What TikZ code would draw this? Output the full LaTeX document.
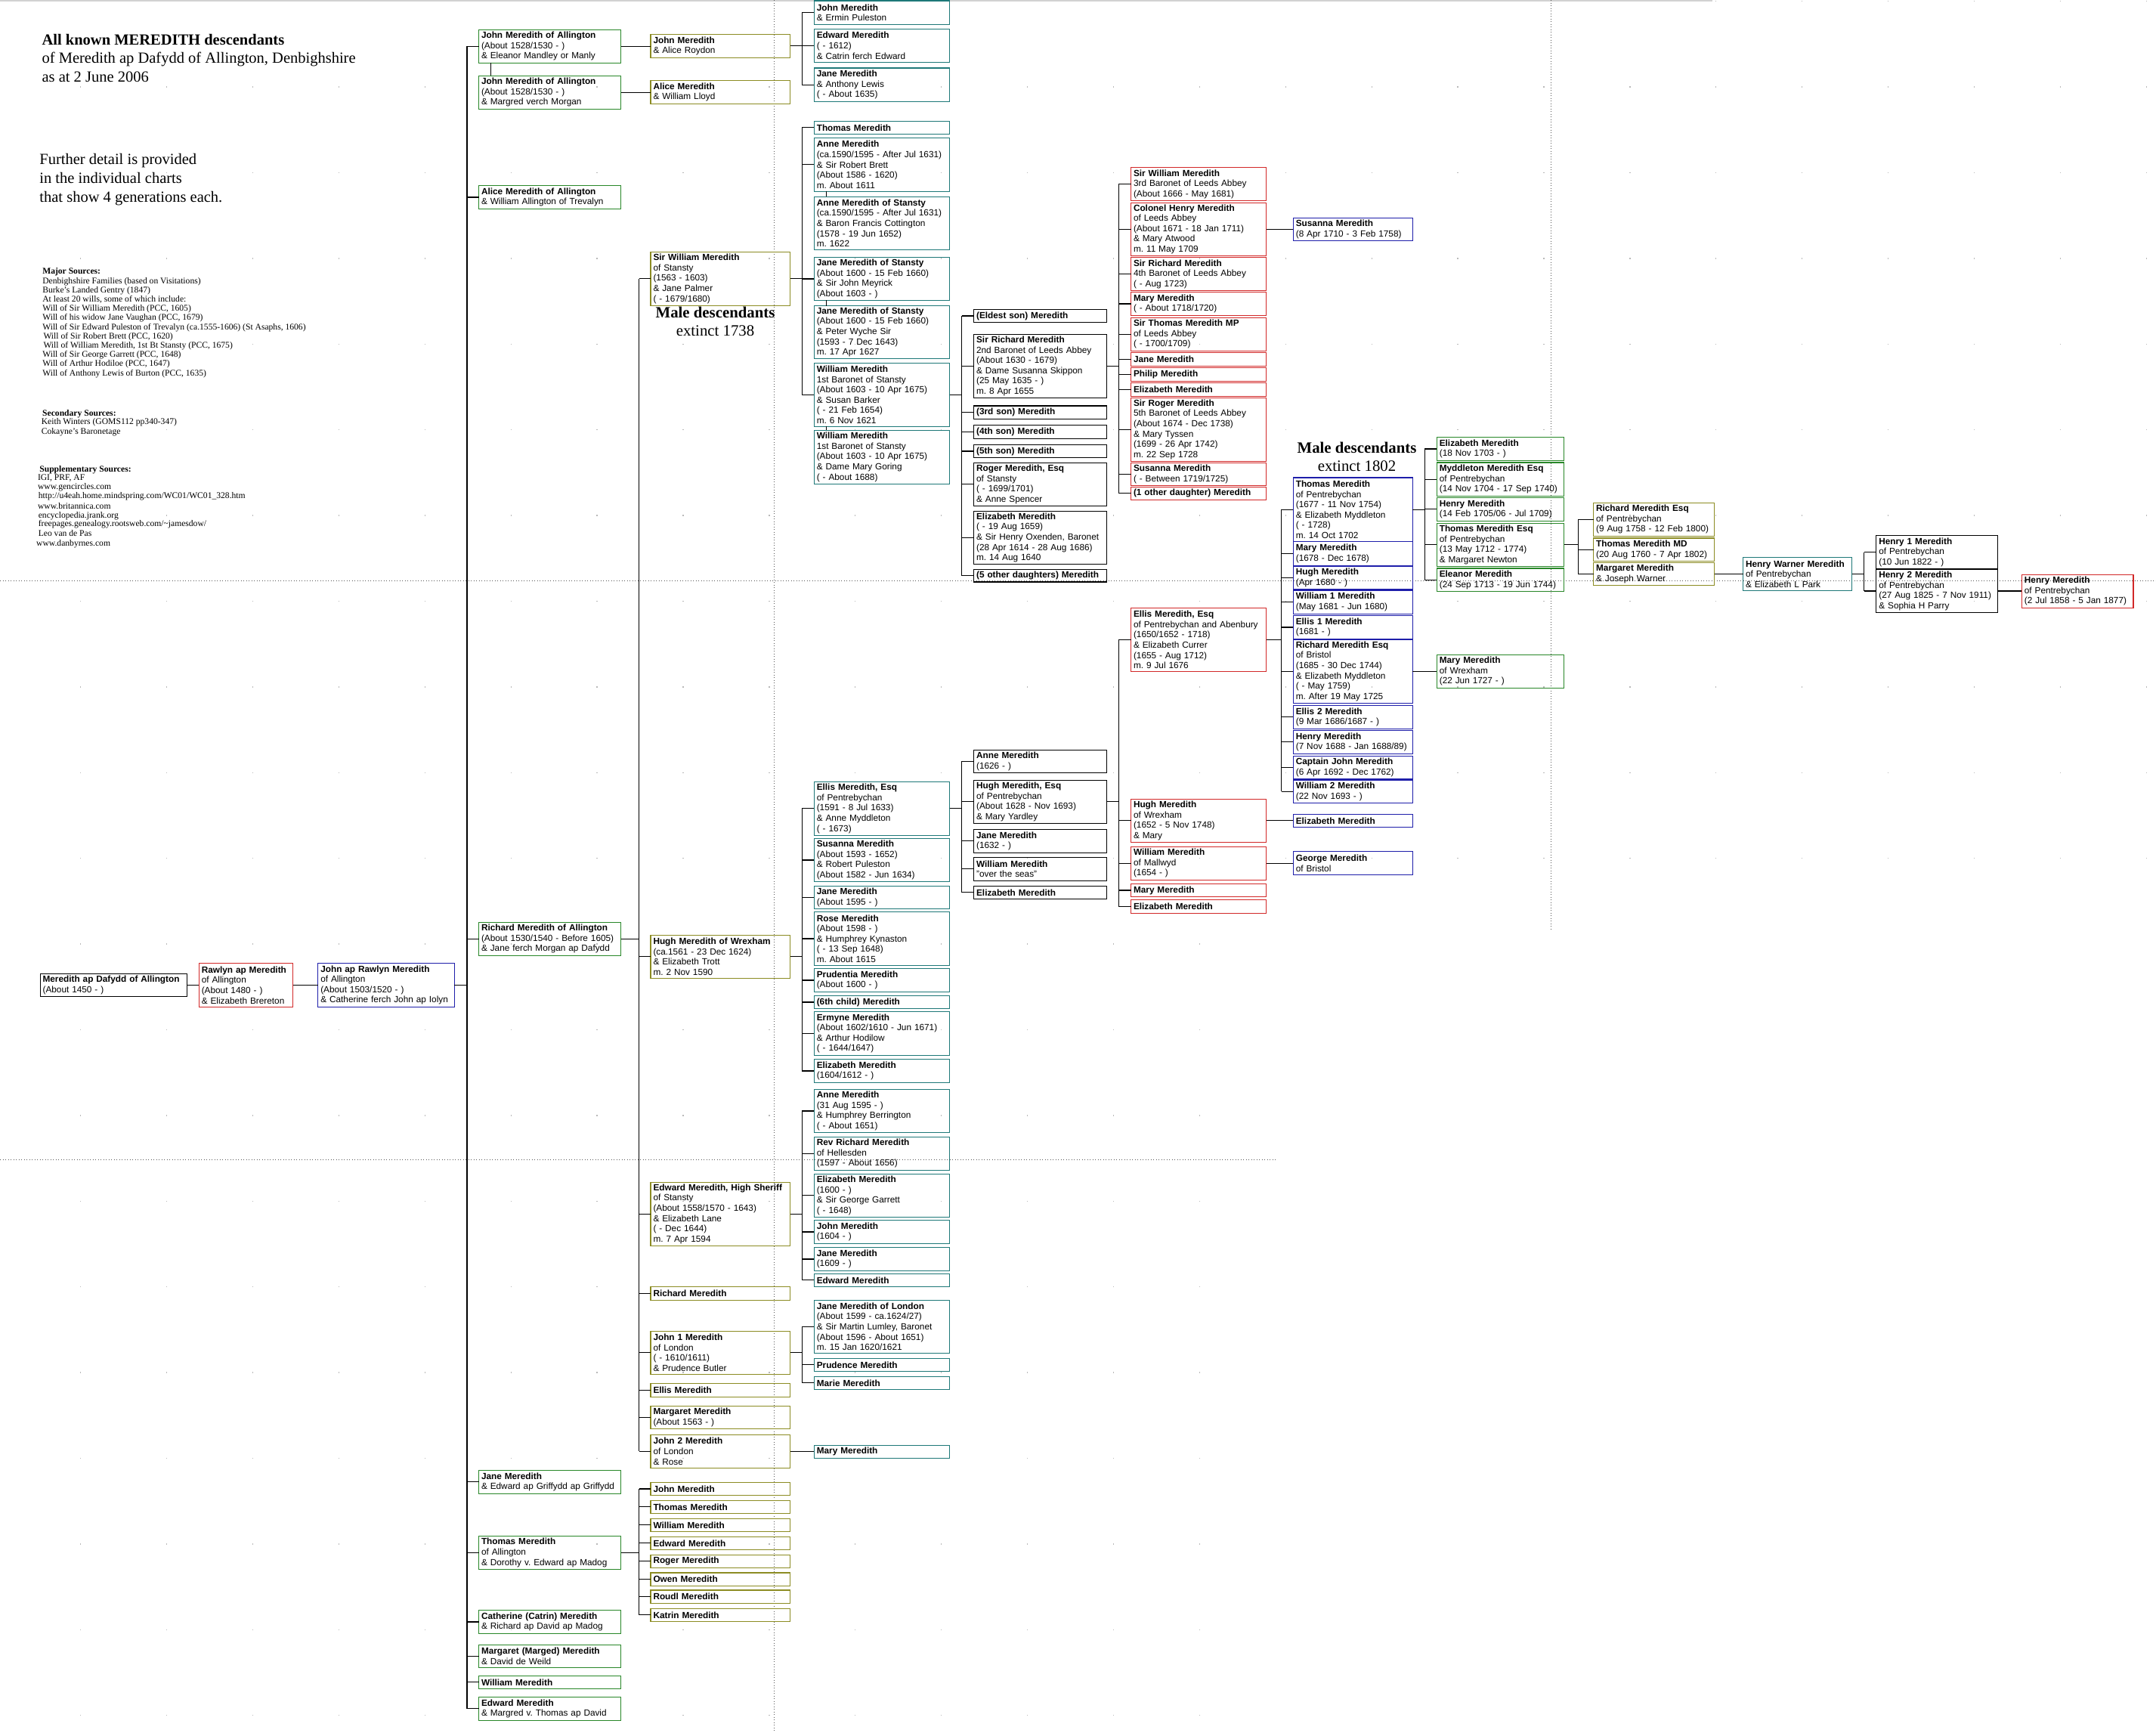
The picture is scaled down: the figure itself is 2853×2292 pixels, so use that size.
\documentclass[tikz,border=0pt]{standalone}
\usepackage{fontspec}
\setmainfont{Liberation Serif}
\setsansfont{Liberation Sans}
\frenchspacing
\definecolor{cgreen}{RGB}{40,135,40}
\definecolor{colive}{RGB}{140,140,35}
\definecolor{cteal}{RGB}{30,120,120}
\definecolor{cred}{RGB}{210,40,40}
\definecolor{cblue}{RGB}{30,30,170}
\newcommand{\mybox}[6]{\node[pbox,#2,minimum height={#5-#4}] (#1) at (#3,{(#4+#5)/2}) {#6};}
\newcommand{\mhd}[1]{\textbf{#1}}
\newcommand{\myfam}[5]{\draw[con] (#1.east) -- (#1.east -| #2); \draw[con] (#3.west -| #2) -- (#4.west -| #2); \foreach \ch in {#5} {\draw[con] (\ch.west -| #2) -- (\ch.west);}}
\newcommand{\mylnk}[2]{\draw[con] (#1.east) -- (#1.east -| #2.west);}
\newcommand{\sameperson}[2]{\draw[con] ([xshift=16pt]#1.south west) -- ([xshift=16pt]#2.north west);}
\def\xA{633.5}\def\xB{861}\def\xC{1077.3}\def\xD{1288.6}\def\xE{1496.5}\def\xG{1711.3}\def\xH{1901.3}\def\xI{2108.6}\def\xJ{2306.5}\def\xK{2482.8}\def\xL{2675.4}
\tikzset{
 pbox/.style={draw, line width=1.2pt, anchor=west, outer sep=0pt, inner xsep=3.5pt, inner ysep=0pt, align=left, font=\sffamily\frenchspacing\fontsize{11.8}{13.6}\selectfont},
 gr/.style={draw=cgreen}, ol/.style={draw=colive}, te/.style={draw=cteal}, bk/.style={draw=black}, rd/.style={draw=cred}, bl/.style={draw=cblue},
 wA/.style={text width=181pt}, wB/.style={text width=177.5pt}, wC/.style={text width=172.3pt},
 wD/.style={text width=169pt}, wE/.style={text width=172pt}, wG/.style={text width=151pt},
 wH/.style={text width=161.4pt}, wI/.style={text width=153pt}, wJ/.style={text width=137pt},
 wK/.style={text width=154pt}, wL/.style={text width=140.5pt},
 wR1/.style={text width=187.5pt}, wR2/.style={text width=117.5pt}, wR3/.style={text width=173.4pt},
 con/.style={line width=1.2pt, black},
 pgline/.style={gray!70!black, line width=0.9pt, dash pattern=on 0.9pt off 2.6pt},
 ttl/.style={anchor=base west, inner sep=0pt, font=\frenchspacing\fontsize{20.5}{24}\selectfont},
 src/.style={anchor=base west, inner sep=0pt, font=\frenchspacing\fontsize{11.6}{12}\selectfont},
 ext/.style={anchor=base, inner sep=0pt, font=\fontsize{20.8}{24}\selectfont},
}
\begin{document}
\begin{tikzpicture}[x=1pt,y=-1pt]
\useasboundingbox (0,0) rectangle (2853,2292);
\fill[white] (0,0) rectangle (2853,2292);
% faint dot grid
\foreach \i in {0,...,24}{\foreach \j in {0,...,10}{\fill[gray!55] ({106+113.9*\i},{1+113.4*\j}) rectangle ++(1.3,1.3);}}
\foreach \i in {0,...,13}{\foreach \j in {11,...,20}{\fill[gray!55] ({106+113.9*\i},{1+113.4*\j}) rectangle ++(1.3,1.3);}}
% page break lines
\draw[gray!35, line width=2pt] (0,0.5) -- (2266,0.5);
\draw[pgline] (0,768.3) -- (2853,768.3);
\draw[pgline] (0,1534) -- (1690,1534);
\draw[pgline] (1024.3,0) -- (1024.3,2292);
\draw[pgline] (2052.3,0) -- (2052.3,1229);

% ---------- texts ----------
\node[ttl] (t1) at (55.4,59.3) {\textbf{All known MEREDITH descendants}};
\node[ttl] (t2) at (55.4,83.8) {of Meredith ap Dafydd of Allington, Denbighshire};
\node[ttl] (t3) at (55.4,108.3) {as at 2 June 2006};
\node[ttl] (t4) at (52.2,217.5) {Further detail is provided};
\node[ttl] (t5) at (52.2,242.5) {in the individual charts};
\node[ttl] (t6) at (52.2,267.5) {that show 4 generations each.};

\node[src] (s1) at (56.1,362.8) {\textbf{Major Sources:}};
\node[src] (s2) at (56.1,375) {Denbighshire Families (based on Visitations)};
\node[src] (s3) at (56.1,387.2) {Burke's Landed Gentry (1847)};
\node[src] (s4) at (56.1,399.4) {At least 20 wills, some of which include:};
\node[src] (s5) at (56.1,411.6) {Will of Sir William Meredith (PCC, 1605)};
\node[src] (s6) at (56.1,423.8) {Will of his widow Jane Vaughan (PCC, 1679)};
\node[src] (s7) at (56.1,436) {Will of Sir Edward Puleston of Trevalyn (ca.1555-1606) (St Asaphs, 1606)};
\node[src] (s8) at (57.3,448.2) {Will of Sir Robert Brett (PCC, 1620)};
\node[src] (s9) at (57.3,460.4) {Will of William Meredith, 1st Bt Stansty (PCC, 1675)};
\node[src] (s10) at (56.1,472.6) {Will of Sir George Garrett (PCC, 1648)};
\node[src] (s11) at (56.1,484.8) {Will of Arthur Hodiloe (PCC, 1647)};
\node[src] (s12) at (56.1,497) {Will of Anthony Lewis of Burton (PCC, 1635)};

\node[src] (s13) at (56,550.2) {\textbf{Secondary Sources:}};
\node[src] (s14) at (54.6,561.8) {Keith Winters (GOMS112 pp340-347)};
\node[src] (s15) at (54.6,574.2) {Cokayne's Baronetage};

\node[src] (s16) at (52.2,624.2) {\textbf{Supplementary Sources:}};
\node[src] (s17) at (49.8,635.8) {IGI, PRF, AF};
\node[src] (s18) at (49.8,647.8) {www.gencircles.com};
\node[src] (s19) at (50.6,659.5) {http://u4eah.home.mindspring.com/WC01/WC01\_328.htm};
\node[src] (s20) at (49.8,673.2) {www.britannica.com};
\node[src] (s21) at (50.6,685.2) {encyclopedia.jrank.org};
\node[src] (s22) at (50.6,696.8) {freepages.genealogy.rootsweb.com/\textasciitilde jamesdow/};
\node[src] (s23) at (50.6,709.2) {Leo van de Pas};
\node[src] (s24) at (48,722.8) {www.danbyrnes.com};

\node[ext] (m1) at (946.5,420.3) {\textbf{Male descendants}};
\node[ext] (m2) at (946.5,444.3) {extinct 1738};
\node[ext] (m3) at (1795.5,599.3) {\textbf{Male descendants}};
\node[ext] (m4) at (1795.5,623.3) {extinct 1802};

% ---------- roots ----------
\mybox{R1}{bk,wR1}{53.1}{1288.7}{1318.3}{\mhd{Meredith ap Dafydd of Allington}\\(About 1450 - )}
\mybox{R2}{rd,wR2}{263.3}{1274.3}{1332.7}{\mhd{Rawlyn ap Meredith}\\of Allington\\(About 1480 - )\\\& Elizabeth Brereton}
\mybox{R3}{bl,wR3}{420.8}{1274.3}{1332.7}{\mhd{John ap Rawlyn Meredith}\\of Allington\\(About 1503/1520 - )\\\& Catherine ferch John ap Iolyn}

% ---------- column A ----------
\mybox{A1}{gr,wA}{\xA}{39.3}{83.3}{\mhd{John Meredith of Allington}\\(About 1528/1530 - )\\\& Eleanor Mandley or Manly}
\mybox{A2}{gr,wA}{\xA}{100.3}{144.3}{\mhd{John Meredith of Allington}\\(About 1528/1530 - )\\\& Margred verch Morgan}
\mybox{A3}{gr,wA}{\xA}{245.7}{276.3}{\mhd{Alice Meredith of Allington}\\\& William Allington of Trevalyn}
\mybox{A4}{gr,wA}{\xA}{1220.3}{1264.3}{\mhd{Richard Meredith of Allington}\\(About 1530/1540 - Before 1605)\\\& Jane ferch Morgan ap Dafydd}
\mybox{A5}{gr,wA}{\xA}{1945.3}{1976.3}{\mhd{Jane Meredith}\\\& Edward ap Griffydd ap Griffydd}
\mybox{A6}{gr,wA}{\xA}{2032.7}{2076.3}{\mhd{Thomas Meredith}\\of Allington\\\& Dorothy v. Edward ap Madog}
\mybox{A7}{gr,wA}{\xA}{2130.7}{2161.3}{\mhd{Catherine (Catrin) Meredith}\\\& Richard ap David ap Madog}
\mybox{A8}{gr,wA}{\xA}{2176.7}{2206.3}{\mhd{Margaret (Marged) Meredith}\\\& David de Weild}
\mybox{A9}{gr,wA}{\xA}{2217.3}{2234.3}{\mhd{William Meredith}}
\mybox{A10}{gr,wA}{\xA}{2245.3}{2276.3}{\mhd{Edward Meredith}\\\& Margred v. Thomas ap David}

% ---------- column B ----------
\mybox{B1}{ol,wB}{\xB}{45.3}{76.3}{\mhd{John Meredith}\\\& Alice Roydon}
\mybox{B2}{ol,wB}{\xB}{106.7}{137.3}{\mhd{Alice Meredith}\\\& William Lloyd}
\mybox{Bsw}{ol,wB}{\xB}{333.3}{404.3}{\mhd{Sir William Meredith}\\of Stansty\\(1563 - 1603)\\\& Jane Palmer\\( - 1679/1680)}
\mybox{B3}{ol,wB}{\xB}{1237.3}{1294.3}{\mhd{Hugh Meredith of Wrexham}\\(ca.1561 - 23 Dec 1624)\\\& Elizabeth Trott\\m. 2 Nov 1590}
\mybox{B4}{ol,wB}{\xB}{1564.3}{1648.3}{\mhd{Edward Meredith, High Sheriff}\\of Stansty\\(About 1558/1570 - 1643)\\\& Elizabeth Lane\\( - Dec 1644)\\m. 7 Apr 1594}
\mybox{B5}{ol,wB}{\xB}{1702.3}{1720.3}{\mhd{Richard Meredith}}
\mybox{B6}{ol,wB}{\xB}{1761.3}{1818.3}{\mhd{John 1 Meredith}\\of London\\( - 1610/1611)\\\& Prudence Butler}
\mybox{B7}{ol,wB}{\xB}{1830.3}{1848.3}{\mhd{Ellis Meredith}}
\mybox{B8}{ol,wB}{\xB}{1860.3}{1890.3}{\mhd{Margaret Meredith}\\(About 1563 - )}
\mybox{B9}{ol,wB}{\xB}{1898.3}{1942.3}{\mhd{John 2 Meredith}\\of London\\\& Rose}
\mybox{B10}{ol,wB}{\xB}{1961.3}{1978.7}{\mhd{John Meredith}}
\mybox{B11}{ol,wB}{\xB}{1985.3}{2002.3}{\mhd{Thomas Meredith}}
\mybox{B12}{ol,wB}{\xB}{2009.3}{2026.3}{\mhd{William Meredith}}
\mybox{B13}{ol,wB}{\xB}{2033.3}{2050.3}{\mhd{Edward Meredith}}
\mybox{B14}{ol,wB}{\xB}{2057.3}{2074.3}{\mhd{Roger Meredith}}
\mybox{B15}{ol,wB}{\xB}{2081}{2098.3}{\mhd{Owen Meredith}}
\mybox{B16}{ol,wB}{\xB}{2104}{2121.3}{\mhd{Roudl Meredith}}
\mybox{B17}{ol,wB}{\xB}{2128.3}{2145.3}{\mhd{Katrin Meredith}}

% ---------- column C ----------
\mybox{C1}{te,wC}{\xC}{1}{32.3}{\mhd{John Meredith}\\\& Ermin Puleston}
\mybox{C2}{te,wC}{\xC}{38.3}{82.3}{\mhd{Edward Meredith}\\( - 1612)\\\& Catrin ferch Edward}
\mybox{C3}{te,wC}{\xC}{90}{134.3}{\mhd{Jane Meredith}\\\& Anthony Lewis\\( - About 1635)}
\mybox{C4}{te,wC}{\xC}{160.3}{177.3}{\mhd{Thomas Meredith}}
\mybox{C5}{te,wC}{\xC}{182.3}{253.3}{\mhd{Anne Meredith}\\(ca.1590/1595 - After Jul 1631)\\\& Sir Robert Brett\\(About 1586 - 1620)\\m. About 1611}
\mybox{C6}{te,wC}{\xC}{260.3}{330.3}{\mhd{Anne Meredith of Stansty}\\(ca.1590/1595 - After Jul 1631)\\\& Baron Francis Cottington\\(1578 - 19 Jun 1652)\\m. 1622}
\mybox{C7}{te,wC}{\xC}{340.7}{397.3}{\mhd{Jane Meredith of Stansty}\\(About 1600 - 15 Feb 1660)\\\& Sir John Meyrick\\(About 1603 - )}
\mybox{C8}{te,wC}{\xC}{404.5}{474.3}{\mhd{Jane Meredith of Stansty}\\(About 1600 - 15 Feb 1660)\\\& Peter Wyche Sir\\(1593 - 7 Dec 1643)\\m. 17 Apr 1627}
\mybox{C9}{te,wC}{\xC}{480.3}{564.3}{\mhd{William Meredith}\\1st Baronet of Stansty\\(About 1603 - 10 Apr 1675)\\\& Susan Barker\\( - 21 Feb 1654)\\m. 6 Nov 1621}
\mybox{C10}{te,wC}{\xC}{569.3}{640.3}{\mhd{William Meredith}\\1st Baronet of Stansty\\(About 1603 - 10 Apr 1675)\\\& Dame Mary Goring\\( - About 1688)}
\mybox{C11}{te,wC}{\xC}{1034.3}{1105.3}{\mhd{Ellis Meredith, Esq}\\of Pentrebychan\\(1591 - 8 Jul 1633)\\\& Anne Myddleton\\( - 1673)}
\mybox{C12}{te,wC}{\xC}{1109.3}{1166.7}{\mhd{Susanna Meredith}\\(About 1593 - 1652)\\\& Robert Puleston\\(About 1582 - Jun 1634)}
\mybox{C13}{te,wC}{\xC}{1172.3}{1202.7}{\mhd{Jane Meredith}\\(About 1595 - )}
\mybox{C14}{te,wC}{\xC}{1206.7}{1277.3}{\mhd{Rose Meredith}\\(About 1598 - )\\\& Humphrey Kynaston\\( - 13 Sep 1648)\\m. About 1615}
\mybox{C15}{te,wC}{\xC}{1281.7}{1312.3}{\mhd{Prudentia Meredith}\\(About 1600 - )}
\mybox{C16}{te,wC}{\xC}{1317.7}{1334.3}{\mhd{(6th child) Meredith}}
\mybox{C17}{te,wC}{\xC}{1338.7}{1396.3}{\mhd{Ermyne Meredith}\\(About 1602/1610 - Jun 1671)\\\& Arthur Hodilow\\( - 1644/1647)}
\mybox{C18}{te,wC}{\xC}{1401.7}{1432.3}{\mhd{Elizabeth Meredith}\\(1604/1612 - )}
\mybox{C19}{te,wC}{\xC}{1441.3}{1498.7}{\mhd{Anne Meredith}\\(31 Aug 1595 - )\\\& Humphrey Berrington\\( - About 1651)}
\mybox{C20}{te,wC}{\xC}{1504.3}{1548.3}{\mhd{Rev Richard Meredith}\\of Hellesden\\(1597 - About 1656)}
\mybox{C21}{te,wC}{\xC}{1553.3}{1610.3}{\mhd{Elizabeth Meredith}\\(1600 - )\\\& Sir George Garrett\\( - 1648)}
\mybox{C22}{te,wC}{\xC}{1614.7}{1645.3}{\mhd{John Meredith}\\(1604 - )}
\mybox{C23}{te,wC}{\xC}{1650.7}{1681.3}{\mhd{Jane Meredith}\\(1609 - )}
\mybox{C24}{te,wC}{\xC}{1685.3}{1702.3}{\mhd{Edward Meredith}}
\mybox{C25}{te,wC}{\xC}{1720.3}{1790.3}{\mhd{Jane Meredith of London}\\(About 1599 - ca.1624/27)\\\& Sir Martin Lumley, Baronet\\(About 1596 - About 1651)\\m. 15 Jan 1620/1621}
\mybox{C26}{te,wC}{\xC}{1797.3}{1814.3}{\mhd{Prudence Meredith}}
\mybox{C27}{te,wC}{\xC}{1821.3}{1838.3}{\mhd{Marie Meredith}}
\mybox{C28}{te,wC}{\xC}{1912.3}{1929.3}{\mhd{Mary Meredith}}

% ---------- column D ----------
\mybox{D1}{bk,wD}{\xD}{409.3}{426.7}{\mhd{(Eldest son) Meredith}}
\mybox{D2}{bk,wD}{\xD}{442.3}{526.7}{\mhd{Sir Richard Meredith}\\2nd Baronet of Leeds Abbey\\(About 1630 - 1679)\\\& Dame Susanna Skippon\\(25 May 1635 - )\\m. 8 Apr 1655}
\mybox{D3}{bk,wD}{\xD}{537}{554.3}{\mhd{(3rd son) Meredith}}
\mybox{D4}{bk,wD}{\xD}{562.3}{580.3}{\mhd{(4th son) Meredith}}
\mybox{D5}{bk,wD}{\xD}{588.3}{605.7}{\mhd{(5th son) Meredith}}
\mybox{D6}{bk,wD}{\xD}{612.3}{669.3}{\mhd{Roger Meredith, Esq}\\of Stansty\\( - 1699/1701)\\\& Anne Spencer}
\mybox{D7}{bk,wD}{\xD}{676.3}{746.7}{\mhd{Elizabeth Meredith}\\( - 19 Aug 1659)\\\& Sir Henry Oxenden, Baronet\\(28 Apr 1614 - 28 Aug 1686)\\m. 14 Aug 1640}
\mybox{D8}{bk,wD}{\xD}{753.3}{770}{\mhd{(5 other daughters) Meredith}}
\mybox{D9}{bk,wD}{\xD}{992.3}{1022.3}{\mhd{Anne Meredith}\\(1626 - )}
\mybox{D10}{bk,wD}{\xD}{1032.3}{1089.3}{\mhd{Hugh Meredith, Esq}\\of Pentrebychan\\(About 1628 - Nov 1693)\\\& Mary Yardley}
\mybox{D11}{bk,wD}{\xD}{1097.3}{1128.3}{\mhd{Jane Meredith}\\(1632 - )}
\mybox{D12}{bk,wD}{\xD}{1134.3}{1165.3}{\mhd{William Meredith}\\"over the seas"}
\mybox{D13}{bk,wD}{\xD}{1172.3}{1189.3}{\mhd{Elizabeth Meredith}}

% ---------- column E ----------
\mybox{E1}{rd,wE}{\xE}{221.7}{265.7}{\mhd{Sir William Meredith}\\3rd Baronet of Leeds Abbey\\(About 1666 - May 1681)}
\mybox{E2}{rd,wE}{\xE}{268.3}{338.3}{\mhd{Colonel Henry Meredith}\\of Leeds Abbey\\(About 1671 - 18 Jan 1711)\\\& Mary Atwood\\m. 11 May 1709}
\mybox{E3}{rd,wE}{\xE}{340.7}{384.7}{\mhd{Sir Richard Meredith}\\4th Baronet of Leeds Abbey\\( - Aug 1723)}
\mybox{E4}{rd,wE}{\xE}{386.7}{417.3}{\mhd{Mary Meredith}\\( - About 1718/1720)}
\mybox{E5}{rd,wE}{\xE}{420.3}{464.3}{\mhd{Sir Thomas Meredith MP}\\of Leeds Abbey\\( - 1700/1709)}
\mybox{E6}{rd,wE}{\xE}{466.3}{484.3}{\mhd{Jane Meredith}}
\mybox{E7}{rd,wE}{\xE}{486.3}{504.3}{\mhd{Philip Meredith}}
\mybox{E8}{rd,wE}{\xE}{506.3}{524.3}{\mhd{Elizabeth Meredith}}
\mybox{E9}{rd,wE}{\xE}{526.3}{610.3}{\mhd{Sir Roger Meredith}\\5th Baronet of Leeds Abbey\\(About 1674 - Dec 1738)\\\& Mary Tyssen\\(1699 - 26 Apr 1742)\\m. 22 Sep 1728}
\mybox{E10}{rd,wE}{\xE}{612.3}{642.7}{\mhd{Susanna Meredith}\\( - Between 1719/1725)}
\mybox{E11}{rd,wE}{\xE}{644.3}{661.3}{\mhd{(1 other daughter) Meredith}}
\mybox{E12}{rd,wE}{\xE}{804.3}{888.7}{\mhd{Ellis Meredith, Esq}\\of Pentrebychan and Abenbury\\(1650/1652 - 1718)\\\& Elizabeth Currer\\(1655 - Aug 1712)\\m. 9 Jul 1676}
\mybox{E13}{rd,wE}{\xE}{1057.3}{1114.3}{\mhd{Hugh Meredith}\\of Wrexham\\(1652 - 5 Nov 1748)\\\& Mary}
\mybox{E14}{rd,wE}{\xE}{1120.3}{1164.3}{\mhd{William Meredith}\\of Mallwyd\\(1654 - )}
\mybox{E15}{rd,wE}{\xE}{1169.3}{1186.7}{\mhd{Mary Meredith}}
\mybox{E16}{rd,wE}{\xE}{1190.7}{1208.3}{\mhd{Elizabeth Meredith}}

% ---------- column F/G ----------
\mybox{F1}{bl,wG}{\xG}{288.7}{318.3}{\mhd{Susanna Meredith}\\(8 Apr 1710 - 3 Feb 1758)}
\mybox{G1}{bl,wG}{\xG}{632}{716.7}{\mhd{Thomas Meredith}\\of Pentrebychan\\(1677 - 11 Nov 1754)\\\& Elizabeth Myddleton\\( - 1728)\\m. 14 Oct 1702}
\mybox{G2}{bl,wG}{\xG}{716.7}{748.3}{\mhd{Mary Meredith}\\(1678 - Dec 1678)}
\mybox{G3}{bl,wG}{\xG}{749}{780}{\mhd{Hugh Meredith}\\(Apr 1680 - )}
\mybox{G4}{bl,wG}{\xG}{781}{812.3}{\mhd{William 1 Meredith}\\(May 1681 - Jun 1680)}
\mybox{G5}{bl,wG}{\xG}{814.3}{845.7}{\mhd{Ellis 1 Meredith}\\(1681 - )}
\mybox{G6}{bl,wG}{\xG}{846.3}{930.3}{\mhd{Richard Meredith Esq}\\of Bristol\\(1685 - 30 Dec 1744)\\\& Elizabeth Myddleton\\( - May 1759)\\m. After 19 May 1725}
\mybox{G7}{bl,wG}{\xG}{933.3}{964.3}{\mhd{Ellis 2 Meredith}\\(9 Mar 1686/1687 - )}
\mybox{G8}{bl,wG}{\xG}{966.3}{997.3}{\mhd{Henry Meredith}\\(7 Nov 1688 - Jan 1688/89)}
\mybox{G9}{bl,wG}{\xG}{1000.7}{1030.3}{\mhd{Captain John Meredith}\\(6 Apr 1692 - Dec 1762)}
\mybox{G10}{bl,wG}{\xG}{1032}{1062.3}{\mhd{William 2 Meredith}\\(22 Nov 1693 - )}
\mybox{G11}{bl,wG}{\xG}{1077.3}{1094.3}{\mhd{Elizabeth Meredith}}
\mybox{G12}{bl,wG}{\xG}{1126.7}{1157.3}{\mhd{George Meredith}\\of Bristol}

% ---------- column H ----------
\mybox{H1}{gr,wH}{\xH}{578.7}{609.3}{\mhd{Elizabeth Meredith}\\(18 Nov 1703 - )}
\mybox{H2}{gr,wH}{\xH}{612}{656.3}{\mhd{Myddleton Meredith Esq}\\of Pentrebychan\\(14 Nov 1704 - 17 Sep 1740)}
\mybox{H3}{gr,wH}{\xH}{658.3}{689.3}{\mhd{Henry Meredith}\\(14 Feb 1705/06 - Jul 1709)}
\mybox{H4}{gr,wH}{\xH}{692.3}{749.3}{\mhd{Thomas Meredith Esq}\\of Pentrebychan\\(13 May 1712 - 1774)\\\& Margaret Newton}
\mybox{H5}{gr,wH}{\xH}{752}{782.7}{\mhd{Eleanor Meredith}\\(24 Sep 1713 - 19 Jun 1744)}
\mybox{H6}{gr,wH}{\xH}{866.3}{910.3}{\mhd{Mary Meredith}\\of Wrexham\\(22 Jun 1727 - )}

% ---------- columns I-L ----------
\mybox{I1}{ol,wI}{\xI}{665.3}{709.3}{\mhd{Richard Meredith Esq}\\of Pentrebychan\\(9 Aug 1758 - 12 Feb 1800)}
\mybox{I2}{ol,wI}{\xI}{712}{742.3}{\mhd{Thomas Meredith MD}\\(20 Aug 1760 - 7 Apr 1802)}
\mybox{I3}{ol,wI}{\xI}{744.3}{774.7}{\mhd{Margaret Meredith}\\\& Joseph Warner}
\mybox{J1}{te,wJ}{\xJ}{737.3}{781.7}{\mhd{Henry Warner Meredith}\\of Pentrebychan\\\& Elizabeth L Park}
\mybox{K1}{bk,wK}{\xK}{708.7}{752.7}{\mhd{Henry 1 Meredith}\\of Pentrebychan\\(10 Jun 1822 - )}
\mybox{K2}{bk,wK}{\xK}{753.7}{810.3}{\mhd{Henry 2 Meredith}\\of Pentrebychan\\(27 Aug 1825 - 7 Nov 1911)\\\& Sophia H Parry}
\mybox{L1}{rd,wL}{\xL}{760.3}{804.3}{\mhd{Henry Meredith}\\of Pentrebychan\\(2 Jul 1858 - 5 Jan 1877)}

% ---------- connectors ----------
\coordinate (kA) at (618,0);
\coordinate (kB) at (845.5,0);
\coordinate (kC) at (1061.3,0);
\coordinate (kD) at (1272.7,0);
\coordinate (kE) at (1480.4,0);
\coordinate (kG) at (1695.5,0);
\coordinate (kH) at (1885.3,0);
\coordinate (kI) at (2088.7,0);
\coordinate (kK) at (2466.5,0);

\mylnk{R1}{R2}
\mylnk{R2}{R3}
\myfam{R3}{kA}{A1}{A10}{A1,A3,A4,A5,A6,A7,A8,A9,A10}
\mylnk{A1}{B1}
\mylnk{A2}{B2}
\myfam{A4}{kB}{Bsw}{B9}{Bsw,B3,B4,B5,B6,B7,B8,B9}
\myfam{A6}{kB}{B10}{B17}{B10,B11,B12,B13,B14,B15,B16,B17}
\myfam{B1}{kC}{C1}{C3}{C1,C2,C3}
\myfam{Bsw}{kC}{C4}{C9}{C4,C5,C7,C9}
\myfam{B3}{kC}{C11}{C18}{C11,C12,C13,C14,C15,C16,C17,C18}
\myfam{B4}{kC}{C19}{C24}{C19,C20,C21,C22,C23,C24}
\myfam{B6}{kC}{C25}{C27}{C25,C26,C27}
\mylnk{B9}{C28}
\myfam{C9}{kD}{D1}{D8}{D1,D2,D3,D4,D5,D6,D7,D8}
\myfam{C11}{kD}{D9}{D13}{D9,D10,D11,D12,D13}
\myfam{D2}{kE}{E1}{E11}{E1,E2,E3,E4,E5,E6,E7,E8,E9,E10,E11}
\myfam{D10}{kE}{E12}{E16}{E12,E13,E14,E15,E16}
\mylnk{E2}{F1}
\myfam{E12}{kG}{G1}{G10}{G1,G2,G3,G4,G5,G6,G7,G8,G9,G10}
\mylnk{E13}{G11}
\mylnk{E14}{G12}
\myfam{G1}{kH}{H1}{H5}{H1,H2,H3,H4,H5}
\mylnk{G6}{H6}
\myfam{H4}{kI}{I1}{I3}{I1,I2,I3}
\mylnk{I3}{J1}
\myfam{J1}{kK}{K1}{K2}{K1,K2}
\mylnk{K2}{L1}

\sameperson{A1}{A2}
\sameperson{C5}{C6}
\sameperson{C7}{C8}
\sameperson{C9}{C10}
\end{tikzpicture}
\end{document}
